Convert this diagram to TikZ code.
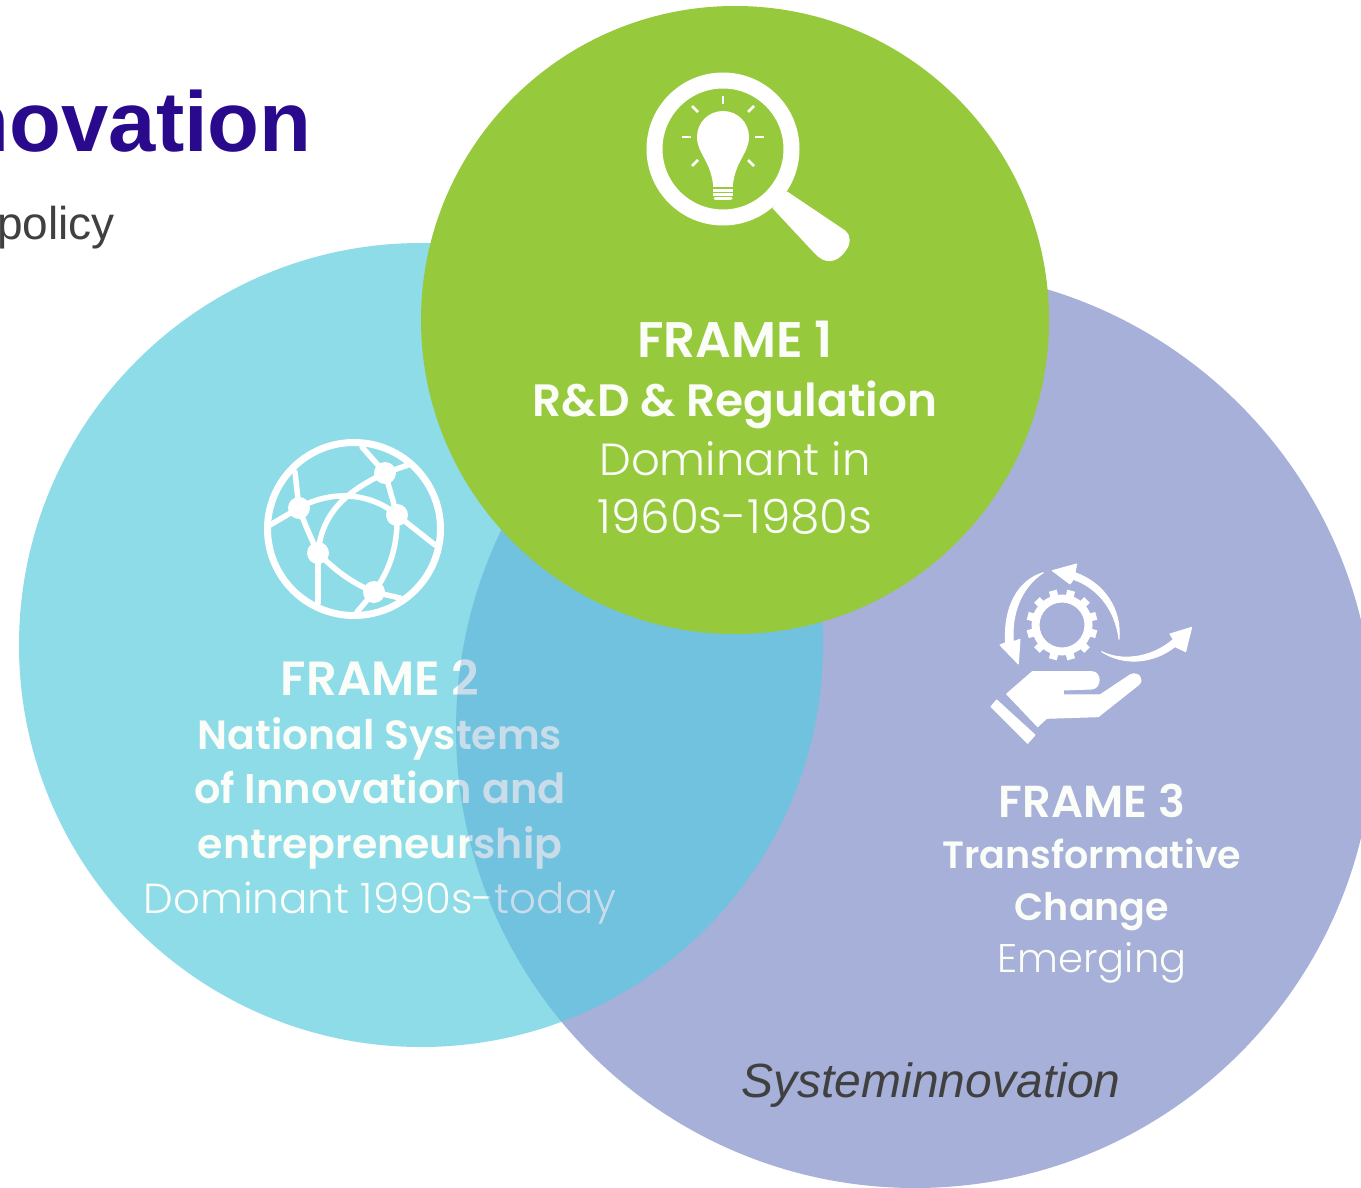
\documentclass[tikz,border=0pt]{standalone}
\usepackage{fontspec}
\setmainfont{Liberation Sans}
\newfontfamily\frameb{Poppins SemiBold}
\newfontfamily\framel{Poppins Light}
\definecolor{cgreen}{HTML}{97C93D}
\definecolor{ccyan}{HTML}{8EDCE8}
\definecolor{cperi}{HTML}{A6B0D8}
\definecolor{cover}{HTML}{005AB6}
\definecolor{ctitle}{HTML}{2A0A8C}
\definecolor{cgrey}{HTML}{404040}
\definecolor{cwhite}{HTML}{FBFDF8}
\newcommand{\fs}[1]{\fontsize{#1}{#1}\selectfont}
\tikzset{
  x=1pt,y=-1pt,
  lab/.style={anchor=base,inner sep=0pt,text=cwhite},
  boldt/.style={lab,font=\frameb\fs{#1}},
  lightt/.style={lab,font=\framel\fs{#1}},
  glob/.style={draw=white,line width=5.5pt},
  wfill/.style={fill=white,draw=white,line width=1pt,line join=round},
}
\begin{document}
\begin{tikzpicture}
\useasboundingbox (0,0) rectangle (1361,1188);
\clip (0,0) rectangle (1361,1188);
\fill[white] (0,0) rectangle (1361,1188);

% title
\node[anchor=base east,inner sep=0pt,text=ctitle,font=\bfseries\fs{85}] (title) at (312,152) {novation};
\node[anchor=base east,inner sep=0pt,text=cgrey,font=\fs{46}] (sub) at (115,239) {policy};

% circles
\fill[cperi] (915,729) circle[radius=459];
\fill[ccyan] (421,645) circle[radius=402];

% globe icon
\draw[glob,line width=7pt] (354,529) circle[radius=86.5];
\coordinate (g1) at (385,473);
\coordinate (g2) at (299,508);
\coordinate (g3) at (397,515);
\coordinate (g4) at (318,553);
\coordinate (g5) at (374,592);
\begin{scope}[glob,line cap=round]
\draw (g1) -- (362,447);
\draw (g1) -- (408,465);
\draw (g2) -- (295,472);
\draw (g2) -- (270,525);
\draw (g3) -- (435,545);
\draw (g4) -- (318,603);
\draw (g5) -- (357,612);
\draw (g5) -- (400,598);
\draw (g2) .. controls (330,490) and (370,492) .. (g3);
\draw (g1) .. controls (350,490) and (322,510) .. (g4);
\draw (g1) -- (g3);
\draw (g2) .. controls (305,525) and (312,540) .. (g4);
\draw (g3) .. controls (398,545) and (390,570) .. (g5);
\draw (g4) .. controls (335,570) and (350,582) .. (g5);
\end{scope}
\foreach \g in {g1,g2,g3,g4,g5} \fill[white] (\g) circle[radius=11];

% frame 2 text
\node[boldt=48] (f2a) at (380,695) {FRAME 2};
\node[boldt=40.8] (f2b) at (380,749) {National Systems};
\node[boldt=41.5] (f2c) at (380,803) {of Innovation and};
\node[boldt=41] (f2d) at (380,858) {entrepreneurship};
\node[lightt=42] (f2e) at (380,913) {Dominant 1990s-today};

% overlap over text
\begin{scope}
\clip (421,645) circle[radius=402];
\fill[cover,opacity=0.2] (915,729) circle[radius=459];
\end{scope}

% green circle
\fill[cgreen] (735,320) circle[radius=314];

% magnifier
\draw[white,line width=16pt] (723,149) circle[radius=68.5];
\fill[wfill] (787,192) -- (773,208) -- (815,253) .. controls (825,264) and (836,263) .. (845,251)
  .. controls (851,243) and (850,235) .. (845,231) -- cycle;
% bulb
\fill[white] (723,111) .. controls (738,111) and (749,123) .. (749,137)
  .. controls (749,153) and (736,160) .. (733,184) -- (713,184)
  .. controls (710,160) and (697,153) .. (697,137)
  .. controls (697,123) and (708,111) .. (723,111) -- cycle;
\foreach \yy in {186,190.5,195} \draw[white,line width=3pt] (713,\yy) -- (733,\yy);
\draw[white,line width=3pt,line cap=round] (715,198.5) -- (731,198.5);
\begin{scope}[white,line width=2.5pt]
\draw (723,96) -- (723,104);
\draw (692,106) -- (698,112);
\draw (748,112) -- (754,106);
\draw (682,137) -- (691,137);
\draw (755,137) -- (764,137);
\draw (692,166) -- (698,160);
\draw (748,160) -- (754,166);
\end{scope}

% frame 1 text
\node[boldt=50] (f1a) at (735,357) {FRAME 1};
\node[boldt=45.4] (f1b) at (735,416) {R\&D \& Regulation};
\node[lightt=45] (f1c) at (735,475) {Dominant in};
\node[lightt=47] (f1d) at (735,533) {1960s-1980s};

% frame 3 icon
\draw[white,line width=8pt] (1062,625) circle[radius=26.5];
\foreach \a in {15,45,...,345}
  \draw[white,line width=8pt] (1062,625) ++(\a:28) -- ++(\a:7.5);
\begin{scope}[shift={(975,550)},x=0.3333pt,y=-0.3333pt]
\fill[wfill] (432,268) .. controls (440,180) and (390,100) .. (300,68) -- (305,42) -- (232,62) -- (285,102) -- (295,88)
  .. controls (360,110) and (420,170) .. (432,268) -- cycle;
\fill[wfill] (205,68) .. controls (130,90) and (85,170) .. (92,278) -- (75,285) -- (130,342) -- (135,268) -- (115,275)
  .. controls (108,190) and (140,110) .. (205,68) -- cycle;
\fill[wfill] (380,305) .. controls (440,345) and (530,345) .. (600,290) -- (632,305) -- (650,232) -- (585,252) -- (595,268)
  .. controls (530,325) and (440,335) .. (380,305) -- cycle;
\fill[wfill] (48,470) -- (65,450) -- (180,555) -- (158,580) -- cycle;
\fill[wfill] (95,432) -- (172,365) -- (350,365) .. controls (380,365) and (380,415) .. (350,417) -- (265,420) -- (265,435) -- (375,435) -- (465,375)
  .. controls (490,362) and (510,390) .. (490,405) -- (370,500) -- (215,505) -- (188,530) -- cycle;
\end{scope}

% frame 3 text
\node[boldt=44.8] (f3a) at (1092,817) {FRAME 3};
\node[boldt=38] (f3b) at (1092,868) {Transformative};
\node[boldt=38] (f3c) at (1092,920) {Change};
\node[lightt=40] (f3d) at (1092,972) {Emerging};

\node[anchor=base,inner sep=0pt,text=cgrey,font=\itshape\fs{48}] (sys) at (931,1097) {Systeminnovation};
\end{tikzpicture}
\end{document}
